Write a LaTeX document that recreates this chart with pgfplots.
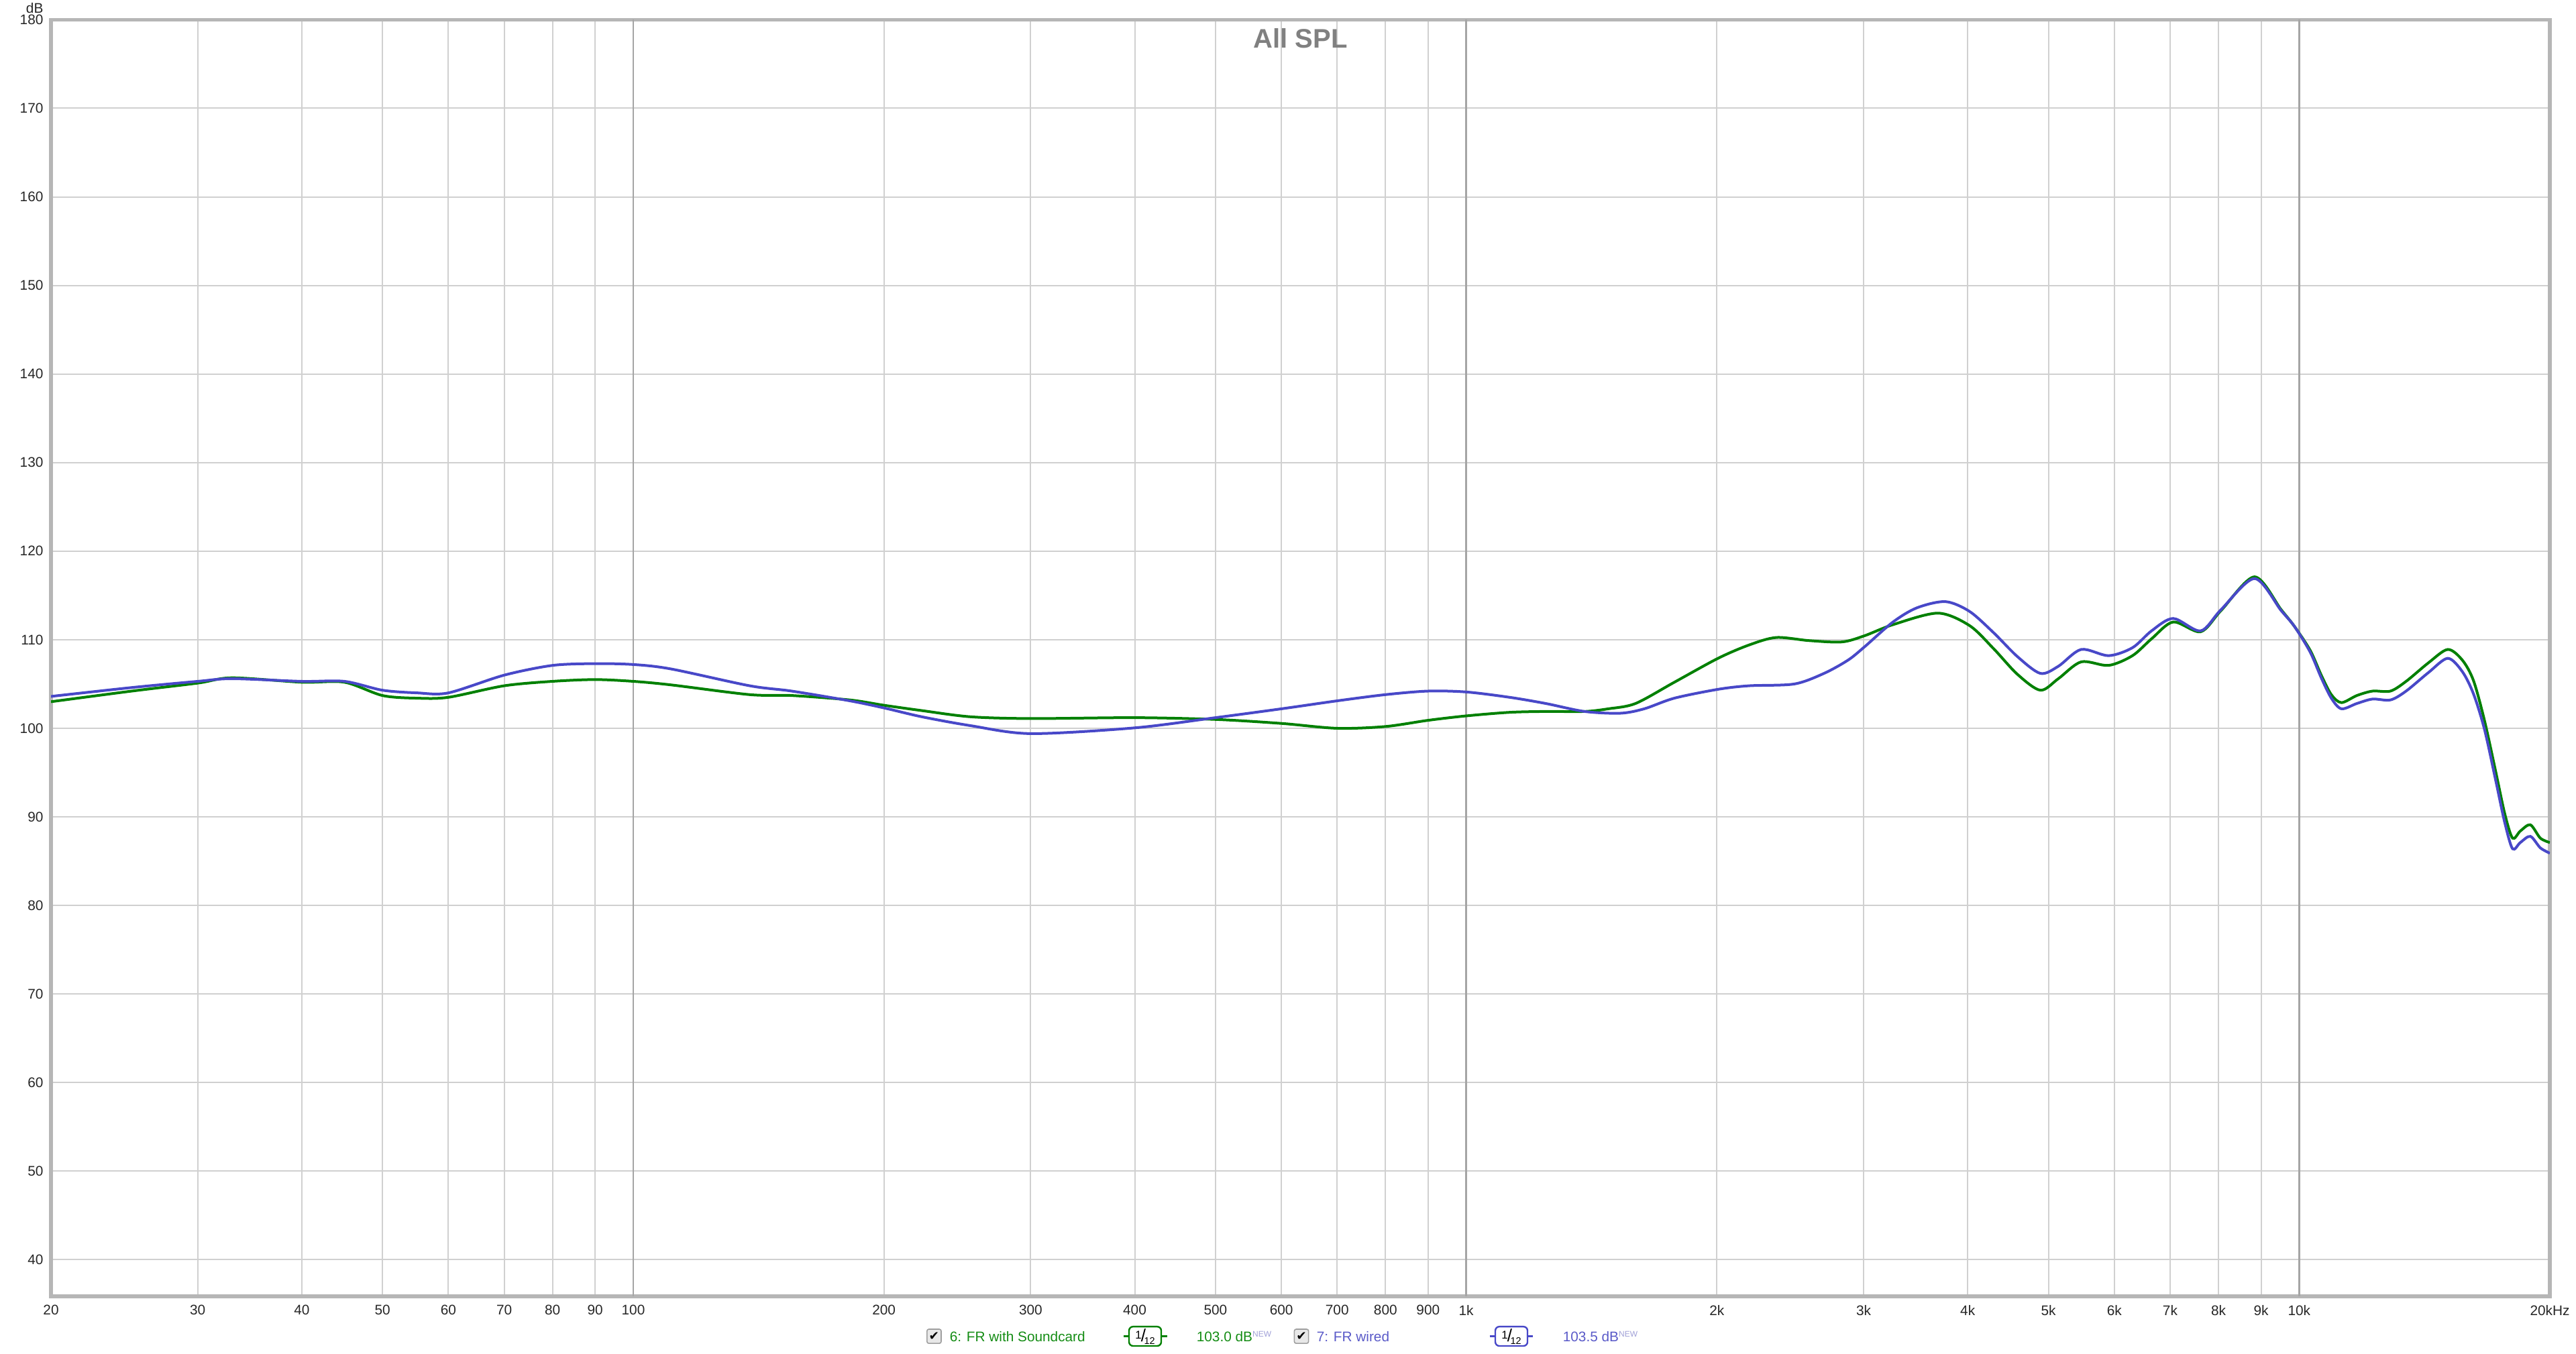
\documentclass[border=0pt]{standalone}
\usepackage{fontspec}
\setmainfont{Liberation Sans}
\newfontfamily\symfont{DejaVu Sans}
\usepackage{pgfplots}
\pgfplotsset{compat=1.18}
\definecolor{cgreen}{RGB}{0,128,0}
\definecolor{cblue}{RGB}{72,72,200}
\definecolor{lgreen}{RGB}{20,140,20}
\definecolor{lblue}{RGB}{90,90,200}
\definecolor{newc}{RGB}{160,160,215}
\definecolor{gridc}{RGB}{208,208,208}
\definecolor{gridd}{RGB}{165,165,165}
\definecolor{framec}{RGB}{182,182,182}
\definecolor{titlec}{RGB}{128,128,128}

\pgfplotstableread[row sep=\\]{
f v\\
20 103.0\\ 25 104.2\\ 30 105.1\\ 33 105.7\\ 40 105.2\\ 45 105.2\\ 50 103.7\\ 55 103.4\\ 60 103.5\\
70 104.8\\ 80 105.3\\ 90 105.5\\ 100 105.3\\ 111 104.9\\ 138 103.8\\ 155 103.7\\ 182 103.2\\
200 102.6\\ 222 102.0\\ 254 101.3\\ 300 101.1\\ 400 101.2\\ 500 101.0\\ 600 100.55\\ 700 100.0\\
800 100.2\\ 900 100.9\\ 1000 101.4\\ 1127 101.8\\ 1246 101.9\\ 1387 101.9\\ 1481 102.2\\
1597 102.8\\ 1778 105.2\\ 2006 107.9\\ 2185 109.4\\ 2356 110.25\\ 2580 109.9\\ 2825 109.75\\
3008 110.45\\ 3254 111.7\\ 3684 113.0\\ 4020 111.6\\ 4296 109.0\\ 4589 106.1\\ 4890 104.3\\
5139 105.6\\ 5474 107.5\\ 5905 107.1\\ 6309 108.2\\ 6650 110.1\\ 7059 112.0\\ 7617 110.9\\
8059 113.3\\ 8840 117.1\\ 9513 113.4\\ 9871 111.5\\ 10310 108.8\\ 10630 106.0\\ 10930 103.8\\
11240 102.9\\ 11730 103.7\\ 12250 104.2\\ 12870 104.2\\ 13440 105.3\\ 14300 107.4\\ 15080 108.9\\
15700 107.7\\ 16190 105.4\\ 16690 100.9\\ 17220 95.1\\ 17650 90.4\\ 18040 87.6\\ 18430 88.4\\
18950 89.1\\ 19480 87.6\\ 20000 87.1\\
}\greendata

\pgfplotstableread[row sep=\\]{
f v\\
20 103.6\\ 25 104.6\\ 30 105.3\\ 33 105.6\\ 40 105.3\\ 45 105.3\\ 50 104.3\\ 55 104.0\\ 60 104.0\\
70 106.0\\ 80 107.1\\ 90 107.3\\ 100 107.2\\ 111 106.7\\ 138 104.8\\ 155 104.2\\ 182 103.1\\
200 102.3\\ 222 101.3\\ 254 100.3\\ 300 99.4\\ 400 100.05\\ 500 101.2\\ 600 102.2\\ 700 103.1\\
800 103.8\\ 900 104.2\\ 1000 104.1\\ 1127 103.5\\ 1246 102.8\\ 1387 101.9\\ 1531 101.7\\
1636 102.2\\ 1778 103.4\\ 2006 104.4\\ 2185 104.8\\ 2476 105.0\\ 2689 106.2\\ 2874 107.7\\
3008 109.2\\ 3254 112.0\\ 3476 113.6\\ 3761 114.3\\ 4020 113.2\\ 4296 110.8\\ 4589 108.1\\
4890 106.2\\ 5139 107.0\\ 5474 108.9\\ 5905 108.2\\ 6309 109.1\\ 6650 111.0\\ 7059 112.4\\
7617 111.0\\ 8059 113.4\\ 8840 116.9\\ 9513 113.3\\ 9871 111.5\\ 10310 108.6\\ 10630 105.7\\
10930 103.4\\ 11240 102.2\\ 11730 102.8\\ 12250 103.3\\ 12870 103.2\\ 13440 104.2\\ 14300 106.3\\
15080 107.9\\ 15700 106.4\\ 16190 103.9\\ 16690 99.9\\ 17220 94.1\\ 17650 89.4\\ 18040 86.4\\
18430 87.1\\ 18950 87.8\\ 19480 86.5\\ 20000 85.9\\
}\bluedata

\newcommand{\twelfth}{{\fontsize{4.2}{5}\selectfont\raisebox{0.9pt}{1}\kern-0.2pt{\fontsize{6.5}{6}\selectfont/}\kern-0.6pt\raisebox{-1pt}{\fontsize{3.6}{4}\selectfont 12}}}
\newcommand{\chkbox}[1]{%
  \node[draw=gray!75, fill=gray!18, minimum size=5.3pt, inner sep=0pt, rounded corners=0.7pt, line width=0.4pt] at #1 {};
  \node[inner sep=0pt] at #1 {\symfont\bfseries\fontsize{4.6}{5}\selectfont ✔};}

\begin{document}
\begin{tikzpicture}[x=1pt,y=1pt]
\useasboundingbox (0,0) rectangle (960,504.75);
\begin{axis}[
  at={(19pt,21.5pt)}, anchor=south west,
  scale only axis, width=931.25pt, height=475.9pt,
  xmode=log, log basis x=10,
  xmin=20, xmax=20000, ymin=35.87, ymax=180,
  xtick={20,30,40,50,60,70,80,90,100,200,300,400,500,600,700,800,900,1000,2000,3000,4000,5000,6000,7000,8000,9000,10000,20000},
  xticklabels={20,30,40,50,60,70,80,90,100,200,300,400,500,600,700,800,900,1k,2k,3k,4k,5k,6k,7k,8k,9k,10k,20kHz},
  ytick={40,50,60,70,80,90,100,110,120,130,140,150,160,170,180},
  extra x ticks={100,1000,10000},
  extra x tick labels={,,},
  extra x tick style={major grid style={gridd, line width=0.6pt}},
  grid=major,
  major grid style={gridc, line width=0.5pt},
  major tick length=0pt,
  tick style={draw=none},
  axis line style={framec, line width=1.3pt},
  /pgf/number format/assume math mode=true,
  xticklabel style={font=\fontsize{5.2}{6}\selectfont, text=black!85, inner sep=0pt, anchor=north, yshift=-3.1pt},
  yticklabel style={font=\fontsize{5.2}{6}\selectfont, text=black!85, inner sep=0pt, anchor=east, xshift=-2.7pt},
  clip mode=individual,
]
\addplot[cgreen, line width=1pt, smooth, tension=0.5] table[x=f, y=v] {\greendata};
\addplot[cblue, line width=1pt, smooth, tension=0.5] table[x=f, y=v] {\bluedata};
\node[font=\bfseries\fontsize{10}{12}\selectfont, text=titlec] at (rel axis cs:0.5,1) [yshift=-7pt] {All SPL};
\node[font=\fontsize{5.2}{6}\selectfont, text=black!85, anchor=east, inner sep=0pt] at (rel axis cs:0,1) [xshift=-2.7pt, yshift=4.3pt] {dB};
\end{axis}
% legend
\begin{scope}[font=\fontsize{5.2}{6}\selectfont]
\chkbox{(348.1,6.6)}
\node[anchor=west, inner sep=0pt] (t1) at (353.75,6.6) {\phantom{6}};
\node[anchor=west, inner sep=0pt, text=lgreen] at (353.75,6.6) {6: FR with Soundcard};
\draw[cgreen, line width=0.6pt] (418.75,6.6) -- (435,6.6);
\node[draw=cgreen, line width=0.6pt, fill=white, rounded corners=1.5pt, minimum width=12pt, minimum height=7.2pt, inner sep=0pt] at (426.75,6.6) {\twelfth};
\node[anchor=west, inner sep=0pt, text=lgreen] at (445.75,6.6) {103.0 dB\raisebox{1.6pt}{\textcolor{newc}{\fontsize{3}{3}\selectfont NEW}}};
\chkbox{(485,6.6)}
\node[anchor=west, inner sep=0pt, text=lblue] at (490.5,6.6) {7: FR wired};
\draw[cblue, line width=0.6pt] (555.15,6.6) -- (571.35,6.6);
\node[draw=cblue, line width=0.6pt, fill=white, rounded corners=1.5pt, minimum width=12pt, minimum height=7.2pt, inner sep=0pt] at (563.25,6.6) {\twelfth};
\node[anchor=west, inner sep=0pt, text=lblue] at (582.25,6.6) {103.5 dB\raisebox{1.6pt}{\textcolor{newc}{\fontsize{3}{3}\selectfont NEW}}};
\end{scope}
\end{tikzpicture}
\end{document}
